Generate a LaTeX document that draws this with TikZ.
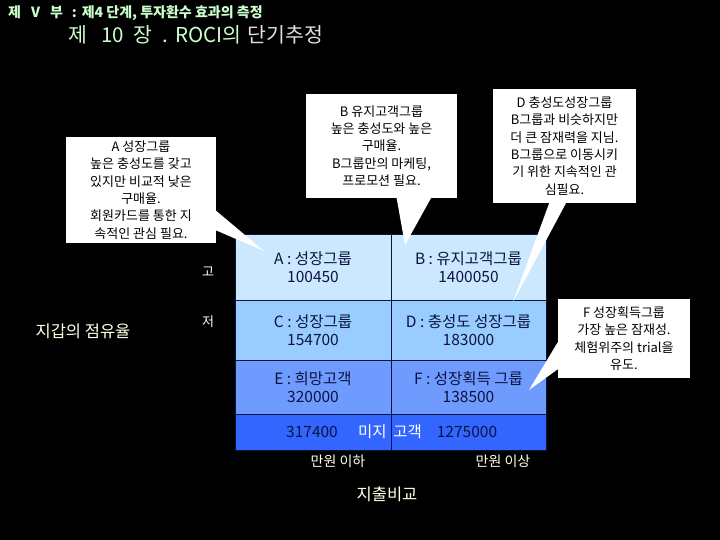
\documentclass[tikz,border=0pt]{standalone}
\usepackage{fontspec}
\setmainfont{Noto Sans CJK KR}
\usepackage{tikz}
\usetikzlibrary{positioning, calc}
\definecolor{rowA}{HTML}{CCE8FF}
\definecolor{rowC}{HTML}{99CCFF}
\definecolor{rowE}{HTML}{6F9BFF}
\definecolor{rowG}{HTML}{3366FF}
\definecolor{navy}{HTML}{0A1440}
\definecolor{ttlgreen}{HTML}{CCFFCC}
\definecolor{cream}{HTML}{FFFFE6}
\tikzset{
  cell/.style   = {rectangle, draw=navy, line width=1pt, align=center, text=navy,
                   font=\fontsize{15.5}{18.5}\selectfont, inner sep=0pt},
  note/.style   = {rectangle, fill=white, align=center, text=black,
                   font=\fontsize{13}{17.3}\selectfont, inner sep=0pt},
  ptr/.style    = {fill=white},
  lbl/.style    = {text=white, font=\fontsize{13}{15}\selectfont, inner sep=0pt},
  axis/.style   = {text=cream, font=\fontsize{16.5}{18}\selectfont, inner sep=0pt},
}

\begin{document}
\begin{tikzpicture}[x=1pt, y=-1pt]
  \fill[black] (0,0) rectangle (720,540);
  \useasboundingbox (0,0) rectangle (720,540);

  % title
  \node[anchor=west, inner sep=0pt, text=ttlgreen, font=\fontsize{14}{16}\selectfont\bfseries]
    (ttlA) at (8,13) {제\hspace{10pt}V\hspace{10pt}부\hspace{9pt}:\hspace{5pt}제4 단계, 투자환수 효과의 측정};
  \node[anchor=west, inner sep=0pt, font=\fontsize{20.5}{22}\selectfont]
    (ttlB) at (68,35) {\textcolor{ttlgreen}{제\hspace{14pt}10\hspace{10pt}장\hspace{10pt}.\hspace{7pt}ROCI의}\hspace{6pt}\textcolor{black!12}{단기추정}};

  % matrix of groups
  \node[cell, fill=rowA, minimum width=156, minimum height=66] (cA) at (313,267)   {A : 성장그룹\\100450};
  \node[cell, fill=rowA, minimum width=155, minimum height=66] (cB) at (468.5,267) {B : 유지고객그룹\\1400050};
  \node[cell, fill=rowC, minimum width=156, minimum height=60] (cC) at (313,330)   {C : 성장그룹\\154700};
  \node[cell, fill=rowC, minimum width=155, minimum height=60] (cD) at (468.5,330) {D : 충성도 성장그룹\\183000};
  \node[cell, fill=rowE, minimum width=156, minimum height=54] (cE) at (313,387)   {E : 희망고객\\320000};
  \node[cell, fill=rowE, minimum width=155, minimum height=54] (cF) at (468.5,387) {F : 성장획득 그룹\\138500};
  \node[cell, fill=rowG, minimum width=156, minimum height=36] (cG) at (313,432)   {};
  \node[cell, fill=rowG, minimum width=155, minimum height=36] (cH) at (468.5,432) {};
  \node[cell, draw=none] (nG) at (312,432) {317400};
  \node[cell, draw=none, text=white] (mid) at (390,432) {미지\ \ 고객};
  \node[cell, draw=none] (nH) at (467,432) {1275000};

  % axes
  \node[lbl] (hi) at (208,272) {고};
  \node[lbl] (lo) at (208,322) {저};
  \node[axis] (yax) at (83,331) {지갑의 점유율};
  \node[axis, font=\fontsize{14}{16}\selectfont] (lt) at (338,461) {만원 이하};
  \node[axis, font=\fontsize{14}{16}\selectfont] (gt) at (503,461) {만원 이상};
  \node[axis] (xax) at (387,494) {지출비교};

  % callouts
  \coordinate (tipA) at (264,251);
  \coordinate (tipB) at (405,245);
  \coordinate (tipD) at (513,302);
  \coordinate (tipF) at (529,390);

  \node[note, minimum width=150, minimum height=106] (noteA) at (141,190)
    {A 성장그룹\\높은 충성도를 갖고\\있지만 비교적 낮은\\구매율.\\회원카드를 통한 지\\속적인 관심 필요.};
  \node[note, minimum width=151, minimum height=104] (noteB) at (381.5,146)
    {B 유지고객그룹\\높은 충성도와 높은\\구매율.\\B그룹만의 마케팅,\\프로모션 필요.};
  \node[note, minimum width=143, minimum height=114] (noteD) at (564.5,146)
    {D 충성도성장그룹\\B그룹과 비슷하지만\\더 큰 잠재력을 지님.\\B그룹으로 이동시키\\기 위한 지속적인 관\\심필요.};
  \node[note, minimum width=132, minimum height=79] (noteF) at (624,338.5)
    {F 성장획득그룹\\가장 높은 잠재성.\\체험위주의 trial을\\유도.};

  \fill[ptr] ($(noteA.east)+(-1,20)$) -- (tipA) -- ($(noteA.east)+(-1,40)$) -- cycle;
  \fill[ptr] ($(noteB.south)+(15,-1)$) -- (tipB) -- ($(noteB.south)+(50,-1)$) -- cycle;
  \fill[ptr] ($(noteD.south)+(-15,-1)$) -- (tipD) -- ($(noteD.south)+(2,-1)$) -- cycle;
  \fill[ptr] ($(noteF.west)+(1,2)$) -- (tipF) -- ($(noteF.west)+(1,30)$) -- cycle;
\end{tikzpicture}
\end{document}
